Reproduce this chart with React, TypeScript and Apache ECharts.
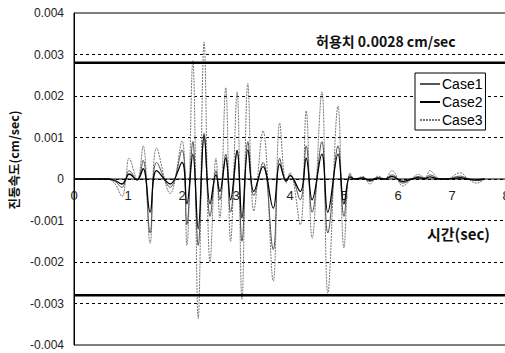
import React, { useEffect, useRef } from "react";
import * as echarts from "echarts";

const times = [0, 0.6, 0.75, 0.89, 0.96, 1.02, 1.17, 1.28, 1.41, 1.53, 1.78, 2.0, 2.09, 2.2, 2.3, 2.41, 2.52, 2.63, 2.7, 2.81, 2.9, 3.02, 3.11, 3.22, 3.33, 3.5, 3.69, 3.81, 3.93, 4.0, 4.19, 4.3, 4.41, 4.59, 4.7, 4.89, 5.0, 5.11, 5.2, 5.35, 5.48, 5.63, 5.75, 5.89, 6.09, 6.25, 6.37, 6.5, 6.59, 6.75, 6.9, 7.15, 7.3, 7.46, 7.6];

const case1 = [0, 0, -0.00005, -0.0002, 0, 0.0002, -0.00003, 0.00045, -0.0013, 0.0004, -0.0002, 0.0007, -0.0011, 0.0009, -0.0016, 0.0011, -0.0009, 0.0002, -0.0005, 0.0006, -0.0008, 0.0007, -0.0015, 0.0009, -0.0004, 0.0004, -0.0017, 0.0005, -0.00005, 0.0001, -0.0005, 0.0008, -0.0008, 0.0009, -0.0013, 0.0008, -0.0009, 0.0001, 0, 0.00004, -0.00006, 0.00004, 0, 0.0001, -0.0001, 0, 0.00006, 0.00002, 0.0001, 0.00001, 0, 0.00007, 0, -0.00004, 0];

const case2 = [0, 0, -0.00003, -0.00012, 0, 0.00012, -0.00002, 0.00025, -0.0008, 0.0002, -0.00012, 0.0004, -0.0006, 0.0006, -0.0012, 0.00104, -0.0006, 0.0001, -0.0003, 0.0005, -0.0005, 0.00068, -0.00094, 0.0007, -0.0003, 0.0003, -0.0007, 0.00036, -0.00005, 0.00008, -0.0003, 0.0005, -0.0005, 0.0006, -0.0008, 0.0006, -0.0006, 0.00005, 0, 0.00002, -0.00003, 0.00002, 0, 0.00006, -0.00006, 0, 0.00003, 0.00001, 0.00005, 0, 0, 0.00003, 0, -0.00002, 0];

const case3 = [0, 0, -0.0001, -0.00042, 0, 0.0005, -0.00002, 0.0008, -0.00155, 0.00075, -0.00035, 0.00092, -0.0016, 0.00285, -0.00336, 0.0033, -0.002, 0.0005, -0.00094, 0.0022, -0.0015, 0.0021, -0.0029, 0.0023, -0.00077, 0.00116, -0.00246, 0.00135, -0.0001, 0.00015, -0.0011, 0.00164, -0.00143, 0.0021, -0.00275, 0.00176, -0.00166, 0.00015, 0, 0.00006, -0.00012, 0.00007, 0, 0.0002, -0.00017, 0, 0.00011, 0.00003, 0.0002, 0.00002, 0, 0.00015, 0, -0.0001, 0];

const seriesNames = ["Case1", "Case2", "Case3"];
const xRange = [0, 8];
const limitValue = 0.0028;
const limitLabel = "허용치 0.0028 cm/sec";
const yTitle = "진동속도(cm/sec)";
const xTitle = "시간(sec)";

export default function App() {
  const ref = useRef<HTMLDivElement>(null);
  useEffect(() => {
    if (!ref.current) return;
    const chart = echarts.init(ref.current, undefined, { renderer: "svg" });
    const pair = (arr: number[]) => times.map((t, i) => [t, arr[i]]);
    const font = "Liberation Sans";
    const flat = (v: number) => xRange.map((x) => [x, v]);
    const refLine = (v: number, w: number) => ({
      type: "line",
      data: flat(v),
      symbol: "none",
      silent: true,
      lineStyle: { color: "#000", width: w },
      z: 5,
    });
    chart.setOption({
      animation: false,
      backgroundColor: "#fff",
      grid: {
        left: 74,
        top: 13,
        right: -1,
        bottom: 8,
        outerBoundsMode: "none",
        containLabel: false,
        show: true,
        borderColor: "#000",
        borderWidth: 1,
        backgroundColor: "transparent",
      },
      legend: {
        orient: "vertical",
        left: 415,
        top: 73,
        data: seriesNames,
        backgroundColor: "#fff",
        borderColor: "#000",
        borderWidth: 1,
        borderRadius: 0,
        padding: [4, 3, 3, 4],
        itemWidth: 20,
        itemHeight: 12,
        itemGap: 4,
        itemStyle: { opacity: 0 },
        textStyle: { fontFamily: font, fontSize: 14, color: "#000", padding: [0, 0, 0, -3] },
      },
      xAxis: {
        type: "value",
        min: xRange[0],
        max: xRange[1],
        interval: 1,
        offset: -166,
        axisLine: { show: false, onZero: false },
        axisTick: { show: false },
        splitLine: { show: false },
        axisLabel: { margin: 10, fontFamily: font, fontSize: 13, color: "#222" },
      },
      yAxis: {
        type: "value",
        min: -0.004,
        max: 0.004,
        interval: 0.001,
        axisLine: { show: true, lineStyle: { color: "#000", width: 1 } },
        axisTick: { show: false },
        axisLabel: {
          margin: 10,
          fontFamily: font,
          fontSize: 12,
          color: "#222",
          formatter: (v: number) => (Math.abs(v) < 1e-9 ? "0" : v.toFixed(3)),
        },
        splitLine: {
          show: true,
          showMinLine: false,
          showMaxLine: false,
          lineStyle: { color: "#000", type: [3, 3], width: 1 },
        },
      },
      graphic: [
        {
          type: "text",
          left: 316,
          top: 34,
          style: { text: limitLabel, fontFamily: "Noto Sans CJK KR", fontSize: 14, fontWeight: "bold", fill: "#111" },
        },
        {
          type: "text",
          x: 13,
          y: 160,
          rotation: Math.PI / 2,
          style: {
            text: yTitle,
            fontFamily: "Noto Sans CJK KR",
            fontSize: 12.5,
            fontWeight: "bold",
            fill: "#111",
            align: "center",
            verticalAlign: "middle",
          },
        },
        {
          type: "text",
          left: 427,
          top: 226,
          style: { text: xTitle, fontFamily: "Noto Sans CJK KR", fontSize: 15, fontWeight: "bold", fill: "#111" },
        },
      ],
      series: [
        refLine(0, 1),
        refLine(limitValue, 2.5),
        refLine(-limitValue, 2.5),
        {
          name: "Case1",
          type: "line",
          data: pair(case1),
          symbol: "none",
          smooth: 0.4,
          lineStyle: { color: "#555", width: 1 },
          itemStyle: { color: "#555" },
          z: 3,
        },
        {
          name: "Case2",
          type: "line",
          data: pair(case2),
          symbol: "none",
          smooth: 0.4,
          lineStyle: { color: "#000", width: 1.3 },
          itemStyle: { color: "#000" },
          z: 4,
        },
        {
          name: "Case3",
          type: "line",
          data: pair(case3),
          symbol: "none",
          smooth: 0.4,
          lineStyle: { color: "#777", width: 1, type: [2, 1] },
          itemStyle: { color: "#777" },
          z: 2,
        },
      ],
    });
    return () => chart.dispose();
  }, []);
  return <div ref={ref} style={{ position: "fixed", left: 0, top: 0, width: 505, height: 353 }} />;
}
